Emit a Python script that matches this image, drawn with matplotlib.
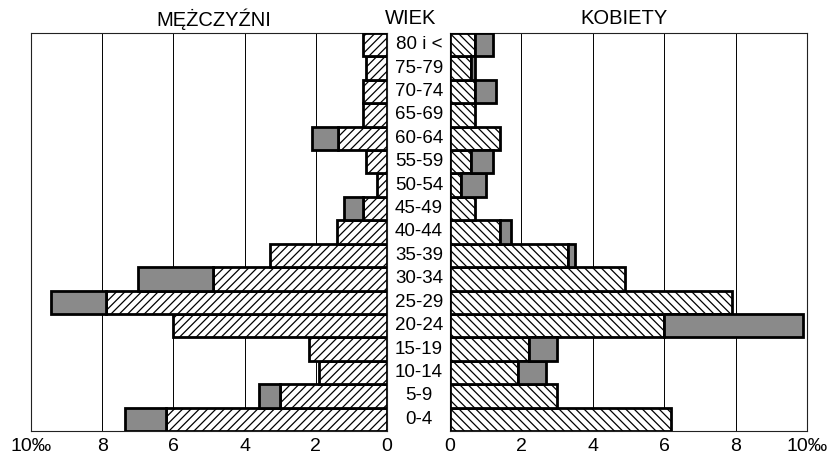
import matplotlib
matplotlib.use("Agg")
import matplotlib.pyplot as plt
import numpy as np

plt.rcParams['font.family'] = ['Liberation Sans', 'DejaVu Sans']
plt.rcParams['hatch.linewidth'] = 0.9

ages = ["0-4", "5-9", "10-14", "15-19", "20-24", "25-29", "30-34", "35-39",
        "40-44", "45-49", "50-54", "55-59", "60-64", "65-69", "70-74", "75-79", "80 i <"]

men_hatched = [6.2, 3.0, 1.9, 2.2, 6.0, 7.9, 4.9, 3.3, 1.4, 0.68, 0.27, 0.6, 1.38, 0.68, 0.68, 0.6, 0.68]
men_total   = [7.35, 3.6, 1.9, 2.2, 6.0, 9.45, 7.0, 3.3, 1.4, 1.2, 0.27, 0.6, 2.1, 0.68, 0.68, 0.6, 0.68]

women_hatched = [6.2, 3.0, 1.9, 2.2, 6.0, 7.9, 4.9, 3.3, 1.4, 0.7, 0.3, 0.6, 1.4, 0.7, 0.7, 0.6, 0.7]
women_total   = [6.2, 3.0, 2.7, 3.0, 9.9, 7.9, 4.9, 3.5, 1.7, 0.7, 1.0, 1.2, 1.4, 0.7, 1.3, 0.7, 1.2]

left_ticklabels = ["10‰", "8", "6", "4", "2", "0"]
right_ticklabels = ["0", "2", "4", "6", "8", "10‰"]
tick_values = [10, 8, 6, 4, 2, 0]
right_tick_values = [0, 2, 4, 6, 8, 10]

W, H = 839, 459
fig = plt.figure(figsize=(W / 100, H / 100), dpi=100)

def px_axes(x0, y0, x1, y1):
    return fig.add_axes([x0 / W, 1 - y1 / H, (x1 - x0) / W, (y1 - y0) / H])

axL = px_axes(31, 33, 387, 431)
axR = px_axes(450, 33, 807, 431)

y = np.arange(len(ages))
gray = '#8a8a8a'
lw = 2.0

for ax, hatched, total, hatch in [(axL, men_hatched, men_total, '////'),
                                  (axR, women_hatched, women_total, '\\\\\\\\')]:
    h = np.array(hatched)
    t = np.array(total)
    extra = np.where(t > h, t - h, 0)
    ax.barh(y, h, height=1.0, color='white', edgecolor='black', hatch=hatch,
            linewidth=lw, zorder=3)
    mask = extra > 0
    ax.barh(y[mask], extra[mask], left=h[mask], height=1.0, color=gray,
            edgecolor='black', linewidth=lw, zorder=3)
    ax.set_ylim(-0.5, len(ages) - 0.5)
    ax.set_yticks([])
    for v in [2, 4, 6, 8]:
        ax.axvline(v, color='black', linewidth=0.7, zorder=1)
    for s in ax.spines.values():
        s.set_linewidth(0.8)
        s.set_color('#222222')
    ax.tick_params(axis='x', length=0, labelsize=14, pad=5)

axL.set_xlim(10, 0)
axL.set_xticks(tick_values)
axL.set_xticklabels(left_ticklabels)
axR.set_xlim(0, 10)
axR.set_xticks(right_tick_values)
axR.set_xticklabels(right_ticklabels)

# age labels
for i, a in enumerate(ages):
    yy = 1 - (431 - (i + 0.5) * (398 / len(ages))) / H
    fig.text(419 / W, yy, a, ha='center', va='center', fontsize=13.5)

fig.text(214 / W, 1 - 19 / H, "MĘŻCZYŹNI", ha='center', va='center', fontsize=14.5)
fig.text(411 / W, 1 - 19 / H, "WIEK", ha='center', va='center', fontsize=14.5)
fig.text(624 / W, 1 - 19 / H, "KOBIETY", ha='center', va='center', fontsize=14.5)

fig.savefig("out.png", dpi=100)
